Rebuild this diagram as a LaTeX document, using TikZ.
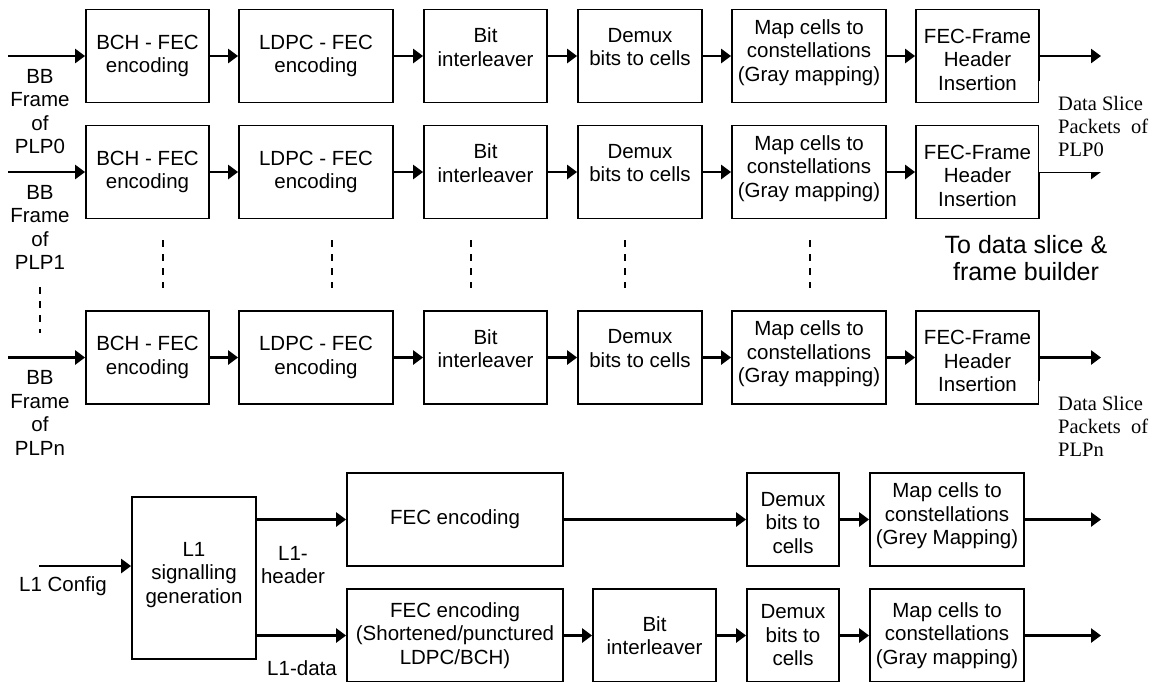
\documentclass[tikz,border=0pt]{standalone}
\usepackage{fontspec}
\setmainfont{Liberation Sans}
\newfontfamily\serifrm{Liberation Serif}
\usetikzlibrary{arrows.meta, positioning}

\tikzset{
  blk/.style={draw, line width=1.8pt, minimum height=93pt, inner sep=0pt, align=center,
    font=\fontsize{20.5}{23.5}\selectfont},
  lift/.style={text depth=#1},
  sink/.style={text height=#1},
  flow/.style={line width=2.6pt, -{Triangle[length=10pt,width=14pt]}},
  txt/.style={align=center, inner sep=0pt, font=\fontsize{20.5}{23.5}\selectfont},
  pkt/.style={fill=white, align=left, anchor=north west, inner xsep=19.5pt, inner ysep=15pt,
    font=\serifrm\fontsize{20.5}{23}\selectfont},
  vdots/.style={line width=1.2pt, dash pattern=on 7pt off 7pt},
}

\begin{document}
\begin{tikzpicture}[x=1pt, y=-1pt]
  \useasboundingbox (0,0) rectangle (1156,681);

  % PLP chains
  \foreach \r/\y/\plp in {a/56/PLP0, b/172/PLP1, n/357.5/PLPn}{
    \node[blk, minimum width=123pt] (\r-bch) at (147.5,\y) {BCH - FEC\\encoding};
    \node[blk, minimum width=154pt] (\r-ldpc) at (316,\y) {LDPC - FEC\\encoding};
    \node[blk, minimum width=123pt, lift=18pt] (\r-bit) at (485.5,\y) {Bit\\interleaver};
    \node[blk, minimum width=124pt, lift=18pt] (\r-dmx) at (640,\y) {Demux\\bits to cells};
    \node[blk, minimum width=154pt, lift=11pt] (\r-map) at (809,\y) {Map cells to\\constellations\\(Gray mapping)};
    \node[blk, minimum width=123pt, sink=69pt] (\r-hdr) at (977.5,\y) {FEC-Frame\\Header\\Insertion};
    \coordinate (\r-in) at (8,\y);
    \coordinate (\r-out) at (1101,\y);
    \node[txt] (\r-lbl) at (40,\y+55.5) {BB\\Frame\\of\\\plp};
    \draw[flow] (\r-in) -- (\r-bch);
    \draw[flow] (\r-bch) -- (\r-ldpc);
    \draw[flow] (\r-ldpc) -- (\r-bit);
    \draw[flow] (\r-bit) -- (\r-dmx);
    \draw[flow] (\r-dmx) -- (\r-map);
    \draw[flow] (\r-map) -- (\r-hdr);
    \draw[flow] (\r-hdr) -- (\r-out);
  }

  \foreach \x in {163, 332, 471, 625, 810}
    \draw[vdots] (\x,240) -- (\x,288);
  \draw[vdots] (40,287) -- (40,333);

  \node[pkt] (a-pkt) at (1038.5,81) {Data Slice\\Packets\ \ of\\PLP0};
  \node[pkt] (n-pkt) at (1038.5,381) {Data Slice\\Packets\ \ of\\PLPn};
  \node[txt, font=\fontsize{25}{27}\selectfont] (dest) at (1026,258.5) {To data slice \&\\frame builder};

  % L1 signalling
  \node[blk, minimum width=124pt, minimum height=162pt, lift=11pt] (sig) at (194,578) {L1\\signalling\\generation};
  \coordinate (cfg) at (39,566);
  \node[txt] (cfg-lbl) at (63,586) {L1 Config};
  \draw[flow] (cfg) -- (cfg -| sig.west);

  \node[blk, minimum width=216pt] (hfec) at (455,519.5) {FEC encoding};
  \node[blk, minimum width=92pt, sink=68pt] (hdmx) at (793,519.5) {Demux\\bits to\\cells};
  \node[blk, minimum width=154pt, lift=11.5pt] (hmap) at (947,519.5) {Map cells to\\constellations\\(Grey Mapping)};
  \coordinate (hout) at (1101,519.5);

  \node[blk, minimum width=216pt] (dfec) at (455,635.5) {FEC encoding\\(Shortened/punctured\\LDPC/BCH)};
  \node[blk, minimum width=123pt] (dbit) at (654.5,635.5) {Bit\\interleaver};
  \node[blk, minimum width=92pt] (ddmx) at (793,635.5) {Demux\\bits to\\cells};
  \node[blk, minimum width=154pt] (dmap) at (947,635.5) {Map cells to\\constellations\\(Gray mapping)};
  \coordinate (dout) at (1101,635.5);

  \node[txt] (hdr-lbl) at (293,565) {L1-\\header};
  \node[txt] (dat-lbl) at (302,668) {L1-data};

  \draw[flow] (sig.east |- hfec) -- (hfec);
  \draw[flow] (hfec) -- (hdmx);
  \draw[flow] (hdmx) -- (hmap);
  \draw[flow] (hmap) -- (hout);
  \draw[flow] (sig.east |- dfec) -- (dfec);
  \draw[flow] (dfec) -- (dbit);
  \draw[flow] (dbit) -- (ddmx);
  \draw[flow] (ddmx) -- (dmap);
  \draw[flow] (dmap) -- (dout);
\end{tikzpicture}
\end{document}
